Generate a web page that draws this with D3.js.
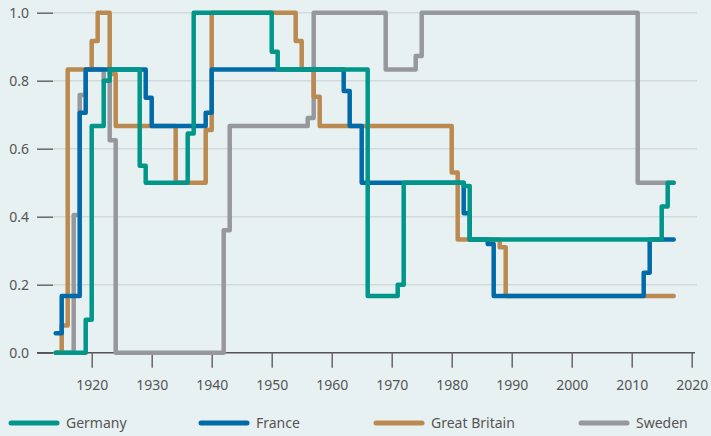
<!DOCTYPE html>
<html>
<head>
<meta charset="utf-8">
<script src="https://cdn.jsdelivr.net/npm/d3@7"></script>
<style>
  html, body { margin: 0; padding: 0; background: #e8f1f2; }
  svg { display: block; font-family: "Noto Sans", "Open Sans", sans-serif; }
</style>
</head>
<body>
<svg id="chart" width="711" height="436"></svg>
<script>
// change points [year, share], held until the next year listed
const germany = [[1914, 0], [1919, 0.097], [1920, 0.667], [1922, 0.8], [1923, 0.833], [1928, 0.55],
  [1929, 0.5], [1936, 0.645], [1937, 1], [1950, 0.885], [1951, 0.833], [1966, 0.167], [1971, 0.2],
  [1972, 0.5], [1982, 0.49], [1983, 0.333], [2015, 0.43], [2016, 0.5], [2017, 0.5]];
const france = [[1914, 0.057], [1915, 0.167], [1918, 0.706], [1919, 0.833], [1929, 0.75], [1930, 0.667],
  [1939, 0.706], [1940, 0.833], [1962, 0.77], [1963, 0.667], [1965, 0.5], [1982, 0.41], [1983, 0.333],
  [1986, 0.32], [1987, 0.167], [2012, 0.235], [2013, 0.333], [2017, 0.333]];
const greatBritain = [[1914, 0], [1915, 0.08], [1916, 0.833], [1920, 0.917], [1921, 1], [1923, 0.82],
  [1924, 0.667], [1934, 0.5], [1939, 0.655], [1940, 1], [1954, 0.917], [1955, 0.833], [1957, 0.753],
  [1958, 0.667], [1980, 0.53], [1981, 0.333], [1988, 0.31], [1989, 0.167], [2017, 0.167]];
const sweden = [[1914, 0], [1917, 0.405], [1918, 0.758], [1919, 0.833], [1922, 0.8], [1923, 0.625],
  [1924, 0], [1942, 0.36], [1943, 0.667], [1956, 0.69], [1957, 1], [1969, 0.833], [1974, 0.873],
  [1975, 1], [2011, 0.5], [2017, 0.5]];

const countries = ['Germany', 'France', 'Great Britain', 'Sweden'];
const colors = ['#00968a', '#006ba8', '#bb8a50', '#96989c'];
const seriesData = [germany, france, greatBritain, sweden];
const xTicks = [1920, 1930, 1940, 1950, 1960, 1970, 1980, 1990, 2000, 2010, 2020];
const yTicks = [0, 0.2, 0.4, 0.6, 0.8, 1.0];

const svg = d3.select('#chart');
const x = d3.scaleLinear().domain([1920, 2020]).range([91.7, 691.7]);
const y = d3.scaleLinear().domain([0, 1]).range([352.7, 12.7]);

// gridlines
svg.append('g')
  .selectAll('line')
  .data(yTicks.slice(1))
  .join('line')
    .attr('x1', 53).attr('x2', 697)
    .attr('y1', d => y(d)).attr('y2', d => y(d))
    .attr('stroke', '#d3d9da').attr('stroke-width', 1.5);

// y axis: short ticks + labels
const yAxis = svg.append('g')
  .attr('transform', 'translate(53,0)')
  .call(d3.axisLeft(y).tickValues(yTicks).tickFormat(d3.format('.1f')).tickSize(16).tickPadding(8));
yAxis.select('.domain').remove();
yAxis.selectAll('line').attr('stroke', '#666').attr('stroke-width', 1.5);
yAxis.selectAll('text').attr('fill', '#555').attr('font-size', 14).attr('font-family', '"Noto Sans", sans-serif');

// x axis
const xAxis = svg.append('g')
  .attr('transform', `translate(0,${y(0)})`)
  .call(d3.axisBottom(x).tickValues(xTicks).tickFormat(d3.format('d')).tickSize(15).tickPadding(12));
xAxis.select('.domain').attr('d', `M37,0H695`).attr('stroke', '#555').attr('stroke-width', 1.5);
xAxis.selectAll('line').attr('stroke', '#666').attr('stroke-width', 1.5);
xAxis.selectAll('text').attr('fill', '#555').attr('font-size', 14).attr('font-family', '"Noto Sans", sans-serif');

// step lines, drawn back to front
const line = d3.line()
  .x(d => x(d[0]))
  .y(d => y(d[1]))
  .curve(d3.curveStepAfter);

const drawOrder = [3, 2, 1, 0];
svg.append('g')
  .selectAll('path')
  .data(drawOrder)
  .join('path')
    .attr('d', i => line(seriesData[i]))
    .attr('fill', 'none')
    .attr('stroke', i => colors[i])
    .attr('stroke-width', 4.5)
    .attr('stroke-linecap', 'round')
    .attr('stroke-linejoin', 'round');

// legend
const legendX = [11, 201, 376, 581];
const legend = svg.append('g')
  .selectAll('g')
  .data(countries)
  .join('g')
    .attr('transform', (d, i) => `translate(${legendX[i]},423)`);
legend.append('line')
  .attr('x1', 0).attr('x2', 46)
  .attr('stroke', (d, i) => colors[i])
  .attr('stroke-width', 5)
  .attr('stroke-linecap', 'round');
legend.append('text')
  .attr('x', 55)
  .attr('dy', '0.35em')
  .attr('fill', '#555')
  .attr('font-size', 14)
  .text(d => d);
</script>
</body>
</html>
